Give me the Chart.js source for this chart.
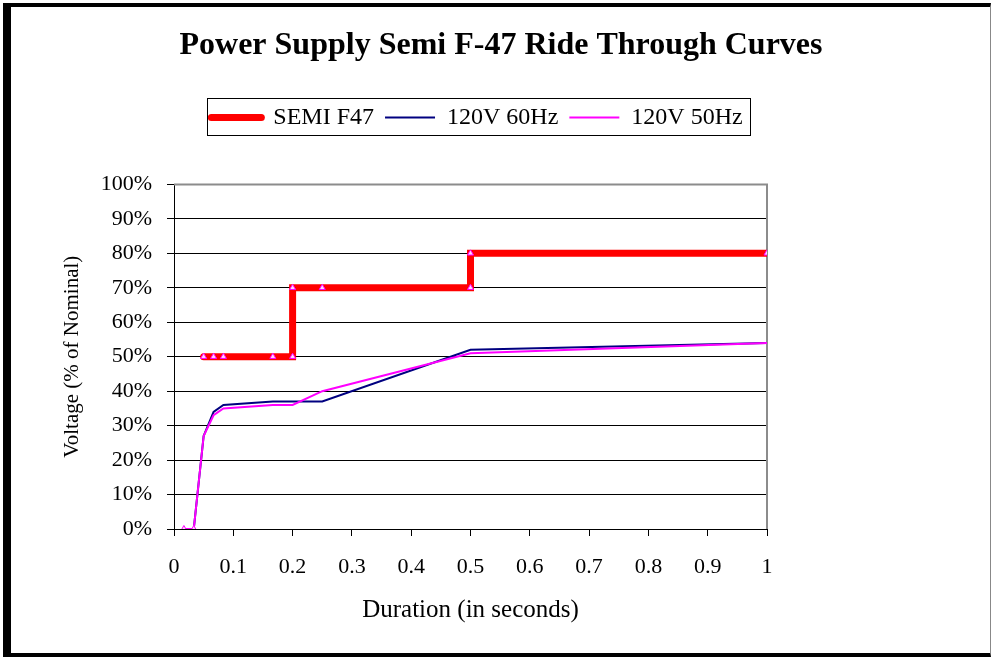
<!DOCTYPE html>
<html>
<head>
<meta charset="utf-8">
<title>Power Supply Semi F-47 Ride Through Curves</title>
<script src="https://cdn.jsdelivr.net/npm/chart.js@4.4.1/dist/chart.umd.min.js"></script>
<style>
  html, body { margin: 0; padding: 0; background: #fff; }
  #frame {
    position: absolute; left: 3px; top: 3px; width: 988px; height: 654px;
    box-sizing: border-box; background: #fff;
    border-left: 8px solid #000; border-top: 4px solid #000;
    border-bottom: 4px solid #000; border-right: 1px solid #888;
  }
  #myChart { position: absolute; left: 0; top: 0; }
</style>
</head>
<body>
<div id="frame"></div>
<canvas id="myChart" width="991" height="658"></canvas>
<script>
// SEMI F47 規範曲線 (秒 / % of nominal)
const f47Time = [0.05, 0.0667, 0.0833, 0.1667, 0.2, 0.2, 0.25, 0.5, 0.5, 1];
const f47Volt = [50, 50, 50, 50, 50, 70, 70, 70, 80, 80];

// 120V 60Hz 實測
const hz60Time = [0.0167, 0.0333, 0.05, 0.0667, 0.0833, 0.1667, 0.2, 0.25, 0.5, 1];
const hz60Volt = [0, 0, 27, 34, 36, 37, 37, 37, 52, 54];

// 120V 50Hz 實測
const hz50Time = [0.0167, 0.0333, 0.05, 0.0667, 0.0833, 0.1667, 0.2, 0.25, 0.5, 1];
const hz50Volt = [0, 0, 27, 33, 35, 36, 36, 40, 51, 54];

const xTickLabels = ['0', '0.1', '0.2', '0.3', '0.4', '0.5', '0.6', '0.7', '0.8', '0.9', '1'];
const yTickLabels = ['0%', '10%', '20%', '30%', '40%', '50%', '60%', '70%', '80%', '90%', '100%'];

const SERIF = '"Liberation Serif", "Times New Roman", serif';
const LEGEND_FONT = 24;
const LEGEND_PAD = 11;
const LEGEND_LINE = 50;

function toPoints(xs, ys) {
    return xs.map((x, i) => ({ x: x, y: ys[i] }));
}

Chart.defaults.font.family = SERIF;
Chart.defaults.color = '#000';

// 調整標題、圖例的位置 (置中點跟原圖一樣)
const layoutTweak = {
    id: 'layoutTweak',
    beforeLayout(chart) {
        const lg = chart.legend;
        if (lg && !lg._patched) {
            const fit = lg.fit;
            lg.fit = function () {
                fit.call(this);
                this.height = 90; // 圖例下方留白到繪圖區
            };
            lg._patched = true;
        }
    },
    afterLayout(chart) {
        const shift = (box, cx) => {
            const dx = cx - (box.left + box.right) / 2;
            box.left += dx;
            box.right += dx;
        };
        if (chart.titleBlock) shift(chart.titleBlock, 501);
        if (chart.legend) shift(chart.legend, 477);
    }
};

// 繪圖區上/右的灰框 + 圖例外框
const frames = {
    id: 'frames',
    beforeDatasetsDraw(chart) {
        const { ctx, chartArea: a } = chart;
        ctx.save();
        ctx.strokeStyle = '#8c8c8c';
        ctx.lineWidth = 2;
        ctx.beginPath();
        ctx.moveTo(a.left, a.top);
        ctx.lineTo(a.right, a.top);
        ctx.lineTo(a.right, a.bottom);
        ctx.stroke();
        ctx.restore();
    },
    afterDraw(chart) {
        const lg = chart.legend;
        if (!lg || !lg.legendItems) return;
        const ctx = chart.ctx;
        ctx.save();
        ctx.font = LEGEND_FONT + 'px ' + SERIF;
        let total = 0;
        lg.legendItems.forEach(it => {
            total += LEGEND_LINE + LEGEND_FONT / 2 + ctx.measureText(it.text).width + LEGEND_PAD;
        });
        const startX = (lg.left + LEGEND_PAD + lg.right - total) / 2;
        const endX = startX + total - LEGEND_PAD;
        const cy = lg.top + LEGEND_PAD + LEGEND_FONT / 2;
        ctx.strokeStyle = '#000';
        ctx.lineWidth = 1;
        ctx.strokeRect(Math.round(startX - 4) + 0.5, Math.round(cy - 19) + 0.5,
                       Math.round(endX - startX + 12), 37);
        ctx.restore();
    }
};

const ctx = document.getElementById('myChart');

new Chart(ctx, {
    type: 'scatter',
    data: {
        datasets: [
            {
                label: 'SEMI F47',
                data: toPoints(f47Time, f47Volt),
                showLine: true,
                borderColor: '#ff0000',
                backgroundColor: '#ff0000',
                borderWidth: 7,
                borderCapStyle: 'round',
                borderJoinStyle: 'miter',
                pointStyle: 'triangle',
                pointRadius: 3.5,
                pointBorderColor: '#ff00ff',
                pointBackgroundColor: '#ffd6ff',
                pointBorderWidth: 1,
                tension: 0,
                order: 2
            },
            {
                label: '120V 60Hz',
                data: toPoints(hz60Time, hz60Volt),
                showLine: true,
                borderColor: '#000080',
                backgroundColor: '#000080',
                borderWidth: 2,
                pointRadius: 0,
                tension: 0,
                order: 1
            },
            {
                label: '120V 50Hz',
                data: toPoints(hz50Time, hz50Volt),
                showLine: true,
                borderColor: '#ff00ff',
                backgroundColor: '#ff00ff',
                borderWidth: 2,
                pointStyle: 'triangle',
                pointRadius: hz50Volt.map(v => (v === 0 ? 3.5 : 0)),
                pointBorderColor: '#ff00ff',
                pointBackgroundColor: '#ffd6ff',
                pointBorderWidth: 1,
                tension: 0,
                order: 0
            }
        ]
    },
    options: {
        responsive: false,
        animation: false,
        devicePixelRatio: 1,
        layout: {
            padding: { left: 56, right: 224, top: 0, bottom: 29 }
        },
        plugins: {
            title: {
                display: true,
                text: 'Power Supply Semi F-47 Ride Through Curves',
                font: { size: 32, weight: 'bold' },
                color: '#000',
                padding: { top: 27, bottom: 29 }
            },
            legend: {
                display: true,
                labels: {
                    usePointStyle: true,
                    pointStyle: 'line',
                    pointStyleWidth: LEGEND_LINE,
                    padding: LEGEND_PAD,
                    color: '#000',
                    font: { size: LEGEND_FONT },
                    sort: (a, b) => a.datasetIndex - b.datasetIndex,
                    // 圖例用線條本身的顏色與粗細，不要用三角形標記的樣式
                    generateLabels: chart => {
                        const items = Chart.defaults.plugins.legend.labels.generateLabels(chart);
                        items.forEach(it => {
                            const ds = chart.data.datasets[it.datasetIndex];
                            it.strokeStyle = ds.borderColor;
                            it.fillStyle = ds.borderColor;
                            it.lineWidth = ds.borderWidth;
                            it.lineCap = ds.borderCapStyle || 'butt';
                            it.pointStyle = 'line';
                        });
                        return items;
                    }
                }
            },
            tooltip: { enabled: false }
        },
        scales: {
            x: {
                type: 'linear',
                min: 0,
                max: 1,
                ticks: {
                    stepSize: 0.1,
                    autoSkip: false,
                    maxRotation: 0,
                    padding: 18,
                    color: '#000',
                    font: { size: 22 },
                    callback: (v, i) => xTickLabels[i]
                },
                grid: { drawOnChartArea: false, drawTicks: true, tickLength: 7, color: '#000' },
                border: { color: '#000', width: 1 },
                title: {
                    display: true,
                    text: 'Duration (in seconds)',
                    color: '#000',
                    font: { size: 25 },
                    padding: { top: 4, bottom: 4 }
                },
                afterFit: s => { s.height = 100; }
            },
            y: {
                min: 0,
                max: 100,
                ticks: {
                    stepSize: 10,
                    padding: 15,
                    color: '#000',
                    font: { size: 22 },
                    callback: (v, i) => yTickLabels[i]
                },
                grid: { color: '#000', tickLength: 7 },
                border: { color: '#000', width: 1 },
                title: {
                    display: true,
                    text: 'Voltage (% of Nominal)',
                    color: '#000',
                    font: { size: 21 },
                    padding: { top: 4, bottom: 4 }
                },
                afterFit: s => { s.width = 118; }
            }
        }
    },
    plugins: [layoutTweak, frames]
});
</script>
</body>
</html>
